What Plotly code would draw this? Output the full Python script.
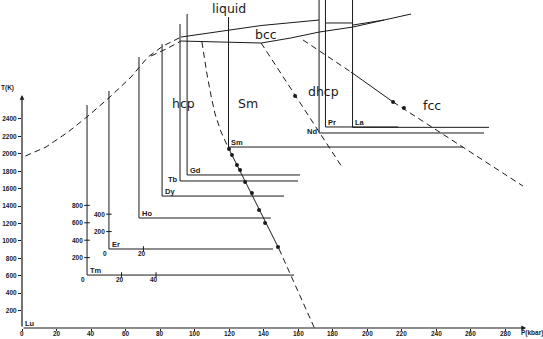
import plotly.graph_objects as go

# ---------------- data (P in kbar, T in K) ----------------
elements = ["Lu", "Tm", "Er", "Ho", "Dy", "Tb", "Gd", "Sm", "Nd", "Pr", "La"]
p_shift = [0, 37.7, 50.4, 67.8, 81.2, 91.6, 95.7, 119.7, 172.2, 175.9, 191.6]
t_shift = [0, 608, 907, 1263, 1515, 1688, 1757, 2078, 2239, 2308, 2304]
t_top = [2675, 2560, 2721, 3111, 3261, 3490, 3605, 3570, 3800, 3800, 3800]
p_end = [292.2, 157.7, 145.5, 144.3, 151.9, 160.0, 161.2, 255.7, 267.8, 218.0, 270.7]
label_left = ["Tb", "Nd"]

main_x_ticks = list(range(0, 281, 20))
main_y_ticks = list(range(200, 2401, 200))

# sub-axis ticks (relative to the element's own origin)
sub_ticks = {
    "Tm": {"p": [0, 20, 40], "t": [200, 400, 600, 800]},
    "Er": {"p": [0, 20], "t": [200, 400]},
}

# melting line (liquid / solid)
melt_a_p = [92.2, 120.0, 138.6, 172.2]
melt_a_t = [3341, 3421, 3473, 3536]
melt_pr_p = [176.2, 191.9]
melt_pr_t = [3502, 3502]
melt_la_p = [191.9, 209.9, 225.5]
melt_la_t = [3479, 3536, 3605]

# lower bcc boundary
bcc_p = [92.2, 120.0, 138.6, 155.9, 172.2, 191.9, 209.9]
bcc_t = [3295, 3284, 3272, 3330, 3398, 3456, 3536]

# dashed extrapolations on the left
melt_ext_p = [2, 13.9, 26.7, 38.3, 51.6, 63.2, 73.0, 81.7, 92.2]
melt_ext_t = [1975, 2078, 2250, 2434, 2664, 2882, 3111, 3238, 3341]
bcc_ext_p = [74.8, 83.5, 92.2]
bcc_ext_t = [3123, 3203, 3295]

# hcp -> Sm boundary
hs_dash_p = [104.3, 105.5, 107.2, 109.6, 111.9, 115.4, 117.7, 119.4]
hs_dash_t = [3284, 3111, 2916, 2664, 2457, 2250, 2147, 2078]
hs_solid_p = [119.4, 149.0]
hs_solid_t = [2078, 907]
hs_tail_p = [149.0, 169.5]
hs_tail_t = [907, 0]
hs_pts_p = [120.0, 121.7, 124.6, 126.4, 129.3, 133.3, 137.4, 140.9, 148.4]
hs_pts_t = [2055, 1986, 1872, 1814, 1676, 1550, 1355, 1206, 930]

# Sm -> dhcp boundary
sd_p = [138.6, 185.5]
sd_t = [3272, 1848]
sd_pts_p = [158.3]
sd_pts_t = [2664]

# dhcp -> fcc boundary
df_dash1_p = [162.9, 190.7]
df_dash1_t = [3307, 2939]
df_solid_p = [190.7, 215.1]
df_solid_t = [2939, 2595]
df_dash2_p = [215.1, 290.4]
df_dash2_t = [2595, 1630]
df_pts_p = [215.1, 221.4]
df_pts_t = [2595, 2526]

phase_names = ["liquid", "bcc", "hcp", "Sm", "dhcp", "fcc"]
phase_p = [120.0, 141.4, 93.9, 131.0, 174.5, 237.7]
phase_t = [3674, 3375, 2583, 2583, 2721, 2560]

# ---------------- figure ----------------
INK = "#1a1a1a"
SOLID = dict(color=INK, width=1)
DASH = dict(color=INK, width=1, dash="6px,4px")
TICKFONT = dict(family="Liberation Sans", size=6.5, color=INK, weight="bold")
LABELFONT = dict(family="Liberation Sans", size=7.5, color=INK, weight="bold")
PHASEFONT = dict(family="DejaVu Sans", size=12.5, color=INK)

fig = go.Figure()


def line(px, ty, style):
    fig.add_trace(go.Scatter(x=px, y=ty, mode="lines", line=style,
                             hoverinfo="skip", showlegend=False))


def dots(px, ty):
    fig.add_trace(go.Scatter(x=px, y=ty, mode="markers",
                             marker=dict(color=INK, size=4),
                             hoverinfo="skip", showlegend=False, cliponaxis=False))


# element axes (L-shaped)
for i in range(1, len(elements)):
    line([p_shift[i], p_shift[i], p_end[i]], [t_top[i], t_shift[i], t_shift[i]], SOLID)

# phase boundaries
line(melt_a_p, melt_a_t, SOLID)
line(melt_pr_p, melt_pr_t, SOLID)
line(melt_la_p, melt_la_t, SOLID)
line(bcc_p, bcc_t, SOLID)
line(melt_ext_p, melt_ext_t, DASH)
line(bcc_ext_p, bcc_ext_t, DASH)
line(hs_dash_p, hs_dash_t, DASH)
line(hs_solid_p, hs_solid_t, SOLID)
line(hs_tail_p, hs_tail_t, DASH)
line(sd_p, sd_t, DASH)
line(df_dash1_p, df_dash1_t, DASH)
line(df_solid_p, df_solid_t, SOLID)
line(df_dash2_p, df_dash2_t, DASH)
dots(hs_pts_p, hs_pts_t)
dots(sd_pts_p, sd_pts_t)
dots(df_pts_p, df_pts_t)

annotations = []


def text(x, y, s, font, xref="x", yref="y", xanchor="center", yanchor="middle"):
    annotations.append(dict(x=x, y=y, xref=xref, yref=yref, text=s, showarrow=False,
                            xanchor=xanchor, yanchor=yanchor, borderpad=0, font=font))


# main axes with arrows (Lu)
annotations.append(dict(x=0, y=t_top[0], ax=0, ay=0, xref="x", yref="y",
                        axref="x", ayref="y", text="", showarrow=True,
                        arrowhead=2, arrowsize=0.8, arrowwidth=1.2, arrowcolor=INK))
annotations.append(dict(x=p_end[0], y=0, ax=0, ay=0, xref="x", yref="y",
                        axref="x", ayref="y", text="", showarrow=True,
                        arrowhead=2, arrowsize=0.8, arrowwidth=1.2, arrowcolor=INK))
text(-0.027, 0.732, "T(K)", TICKFONT, xref="paper", yref="paper")
text(0.979, -0.016, "P(kbar)", TICKFONT, xref="paper", yref="paper")
for v in main_x_ticks:
    text(v, -0.016, str(v), TICKFONT, yref="paper")

# element labels
for i, name in enumerate(elements):
    if name in label_left:
        text(p_shift[i] - 0.6, t_shift[i] + 20, name, LABELFONT, xanchor="right")
    else:
        text(p_shift[i] + 1.0, t_shift[i] + 55, name, LABELFONT, xanchor="left")

# sub-axis ticks and labels
for name, tk in sub_ticks.items():
    i = elements.index(name)
    p0, t0 = p_shift[i], t_shift[i]
    xt = [p0 + v for v in tk["p"] if v > 0]
    fig.add_trace(go.Scatter(x=xt, y=[t0] * len(xt), mode="markers",
                             marker=dict(symbol="line-ns", size=4, line=dict(color=INK, width=1)),
                             hoverinfo="skip", showlegend=False))
    yt = [t0 + v for v in tk["t"]]
    fig.add_trace(go.Scatter(x=[p0] * len(yt), y=yt, mode="markers",
                             marker=dict(symbol="line-ew", size=4, line=dict(color=INK, width=1)),
                             hoverinfo="skip", showlegend=False))
    for v in tk["p"]:
        text(p0 + v - (2.5 if v == 0 else 1.0), t0 - 55, str(v), TICKFONT)
    for v in tk["t"]:
        text(p0 - 2.0, t0 + v, str(v), TICKFONT, xanchor="right")

for p, t, name in zip(phase_p, phase_t, phase_names):
    text(p, t, name, PHASEFONT)

fig.update_layout(
    width=543, height=339,
    margin=dict(l=22, r=0, t=0, b=11),
    paper_bgcolor="white", plot_bgcolor="white",
    showlegend=False,
    annotations=annotations,
    xaxis=dict(range=[0, 302], tickvals=main_x_ticks, ticks="outside", ticklen=2,
               tickcolor=INK, showticklabels=False, showgrid=False, zeroline=False,
               showline=False, fixedrange=True),
    yaxis=dict(range=[0, 3766], tickvals=main_y_ticks, ticks="outside", ticklen=3,
               tickcolor=INK, tickfont=TICKFONT, showgrid=False, zeroline=False,
               showline=False, fixedrange=True),
)

fig.write_html("out.html", config={"displayModeBar": False},
               post_script="document.body.style.margin='0';")
